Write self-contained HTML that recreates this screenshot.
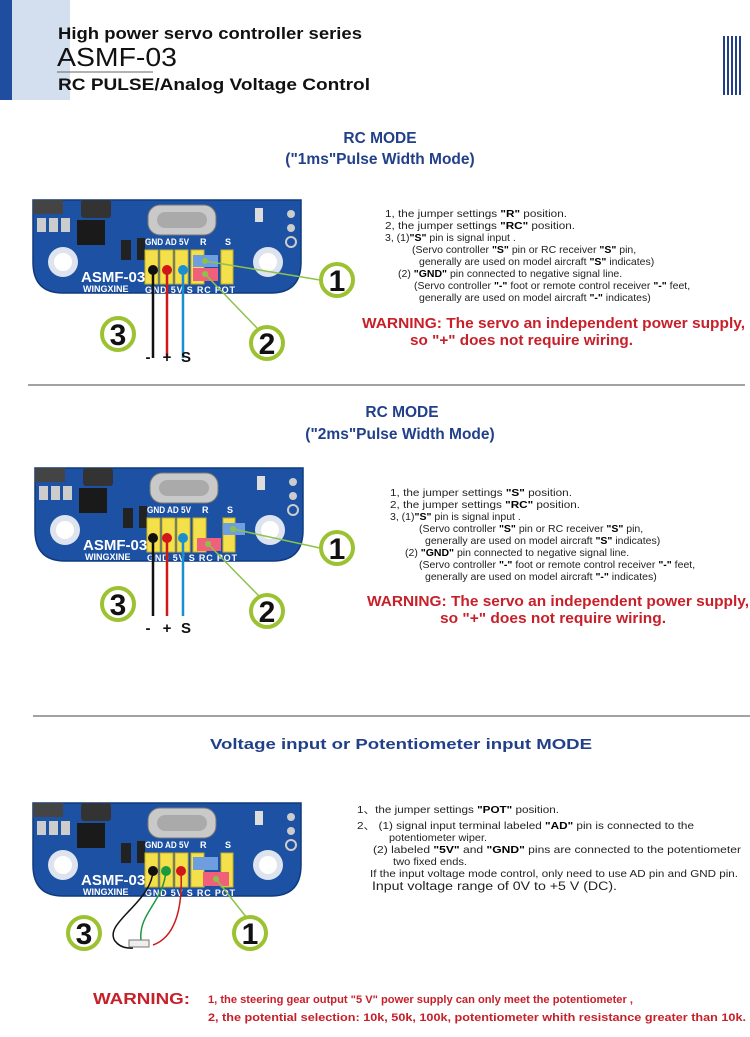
<!DOCTYPE html>
<html><head><meta charset="utf-8"><style>
html,body{margin:0;padding:0;background:#fff;}
svg{display:block;}
text{font-family:"Liberation Sans",sans-serif;}
.t{font-size:10.5px;fill:#222;}
.b{font-weight:bold;fill:#000;}
.h{font-weight:bold;fill:#22408a;font-size:15.5px;}
.w{font-weight:bold;fill:#c8202a;}
.bl{font-size:9px;fill:#fff;font-weight:bold;}
.num{font-size:30px;font-weight:bold;fill:#111;}
.pm{font-size:15px;font-weight:bold;fill:#111;}
</style></head><body>
<svg width="750" height="1037" viewBox="0 0 750 1037" xmlns="http://www.w3.org/2000/svg">
<defs>
<g id="brdbase">
  <path d="M0,0 H268 V62 Q268,93 238,93 H30 Q0,93 0,62 Z" fill="#1d51a3" stroke="#0f3a7d" stroke-width="1.5"/>
  <rect x="0" y="0" width="30" height="14" fill="#444"/>
  <rect x="48" y="0" width="30" height="18" rx="3" fill="#333"/>
  <rect x="4" y="18" width="9" height="14" fill="#ccc"/><rect x="16" y="18" width="9" height="14" fill="#ccc"/><rect x="28" y="18" width="9" height="14" fill="#ccc"/>
  <rect x="44" y="20" width="28" height="25" fill="#1a1a1a"/>
  <rect x="115" y="5" width="68" height="30" rx="12" fill="#c9c9c9" stroke="#777"/>
  <rect x="124" y="12" width="50" height="16" rx="8" fill="#aaa"/>
  <rect x="88" y="40" width="10" height="20" fill="#222"/>
  <rect x="104" y="38" width="8" height="22" fill="#222"/>
  <rect x="222" y="8" width="8" height="14" fill="#ddd"/>
  <circle cx="258" cy="14" r="4" fill="#ccc"/><circle cx="258" cy="28" r="4" fill="#ccc"/><circle cx="258" cy="42" r="5" fill="none" stroke="#ccc" stroke-width="2"/>
  <circle cx="30" cy="62" r="15" fill="#dde4ef"/><circle cx="30" cy="62" r="9" fill="#fff"/>
  <circle cx="235" cy="62" r="15" fill="#dde4ef"/><circle cx="235" cy="62" r="9" fill="#fff"/>
  <text x="48" y="82" style="font-size:15px;font-weight:bold;fill:#fff">ASMF-03</text>
  <text x="50" y="92" style="font-size:9px;font-weight:bold;fill:#fff">WINGXINE</text>
  <text x="112" y="45" class="bl" textLength="44" lengthAdjust="spacingAndGlyphs">GND AD 5V</text>
  <text x="167" y="45" class="bl">R</text>
  <text x="192" y="45" class="bl">S</text>
  <text x="112" y="93" class="bl" textLength="90" lengthAdjust="spacing">GND 5V  S  RC  POT</text>
  <rect x="112" y="50" width="13" height="34" fill="#f4e04a" stroke="#c9b020"/>
  <rect x="127" y="50" width="13" height="34" fill="#f4e04a" stroke="#c9b020"/>
  <rect x="142" y="50" width="13" height="34" fill="#f4e04a" stroke="#c9b020"/>
  <rect x="158" y="50" width="13" height="34" fill="#f4e04a" stroke="#c9b020"/>
  <rect x="188" y="50" width="12" height="34" fill="#f4e04a" stroke="#c9b020"/>
</g>
</defs>

<!-- header -->
<rect x="0" y="0" width="12" height="100" fill="#1f4ea0"/>
<rect x="12" y="0" width="58" height="100" fill="#d3deee"/>
<text x="58" y="39" style="font-size:17px;font-weight:bold;fill:#111" textLength="304" lengthAdjust="spacingAndGlyphs">High power servo controller series</text>
<text x="57" y="66" style="font-size:26px;fill:#111" textLength="120" lengthAdjust="spacingAndGlyphs">ASMF-03</text>
<line x1="57" y1="72" x2="153" y2="72" stroke="#666" stroke-width="1"/>
<text x="58" y="90" style="font-size:17px;font-weight:bold;fill:#111" textLength="312" lengthAdjust="spacingAndGlyphs">RC PULSE/Analog Voltage Control</text>
<g stroke="#22408a" stroke-width="2">
<line x1="724" y1="36" x2="724" y2="95"/><line x1="728" y1="36" x2="728" y2="95"/><line x1="732" y1="36" x2="732" y2="95"/><line x1="736" y1="36" x2="736" y2="95"/><line x1="740" y1="36" x2="740" y2="95"/>
</g>

<!-- Section 1 -->
<text x="380" y="143" text-anchor="middle" class="h">RC MODE</text>
<text x="380" y="164" text-anchor="middle" class="h">("1ms"Pulse Width Mode)</text>
<g transform="translate(33,200)">
  <use href="#brdbase"/>
  <rect x="160" y="55" width="25" height="12" fill="#6e9ee0"/>
  <rect x="160" y="68" width="25" height="13" fill="#f0607a"/>
  <line x1="120" y1="70" x2="120" y2="158" stroke="#111" stroke-width="2.5"/>
  <line x1="134" y1="70" x2="134" y2="158" stroke="#d01818" stroke-width="2.5"/>
  <line x1="150" y1="70" x2="150" y2="158" stroke="#1a8ed0" stroke-width="2.5"/>
  <circle cx="120" cy="70" r="5" fill="#111"/><circle cx="134" cy="70" r="5" fill="#d01818"/><circle cx="150" cy="70" r="5" fill="#1a8ed0"/>
  <circle cx="172" cy="61" r="3" fill="#8bc34a"/><circle cx="172" cy="74" r="3" fill="#8bc34a"/>
  <line x1="172" y1="61" x2="287" y2="80" stroke="#8bc34a" stroke-width="1.5"/>
  <line x1="172" y1="74" x2="224" y2="128" stroke="#8bc34a" stroke-width="1.5"/>
</g>
<text x="148" y="362" class="pm" text-anchor="middle">-</text><text x="167" y="362" class="pm" text-anchor="middle">+</text><text x="186" y="362" class="pm" text-anchor="middle">S</text>
<circle cx="118" cy="334" r="16" fill="#fff" stroke="#9cc232" stroke-width="4"/><text x="118" y="345" text-anchor="middle" class="num">3</text>
<circle cx="337" cy="280" r="16" fill="#fff" stroke="#9cc232" stroke-width="4"/><text x="337" y="291" text-anchor="middle" class="num">1</text>
<circle cx="267" cy="343" r="16" fill="#fff" stroke="#9cc232" stroke-width="4"/><text x="267" y="354" text-anchor="middle" class="num">2</text>
<text x="385" y="217" class="t" textLength="182" lengthAdjust="spacingAndGlyphs">1, the jumper settings <tspan class="b">"R"</tspan> position.</text>
<text x="385" y="229" class="t" textLength="190" lengthAdjust="spacingAndGlyphs">2, the jumper settings <tspan class="b">"RC"</tspan> position.</text>
<text x="385" y="241" class="t">3,  (1)<tspan class="b">"S"</tspan> pin is signal input .</text>
<text x="412" y="253" class="t">(Servo controller <tspan class="b">"S"</tspan> pin or RC receiver <tspan class="b">"S"</tspan> pin,</text>
<text x="419" y="265" class="t">generally are used on model aircraft <tspan class="b">"S"</tspan> indicates)</text>
<text x="398" y="277" class="t">(2) <tspan class="b">"GND"</tspan> pin connected to negative signal line.</text>
<text x="414" y="289" class="t">(Servo controller <tspan class="b">"-"</tspan> foot or remote control receiver <tspan class="b">"-"</tspan> feet,</text>
<text x="419" y="301" class="t">generally are used on model aircraft <tspan class="b">"-"</tspan> indicates)</text>
<text x="362" y="328" class="w" style="font-size:15px" textLength="383" lengthAdjust="spacingAndGlyphs">WARNING: The servo an independent power supply,</text>
<text x="410" y="345" class="w" style="font-size:15px" textLength="223" lengthAdjust="spacingAndGlyphs">so "+" does not require wiring.</text>

<line x1="28" y1="385" x2="745" y2="385" stroke="#444" stroke-width="1"/>

<!-- Section 2 -->
<text x="402" y="417" text-anchor="middle" class="h">RC MODE</text>
<text x="400" y="439" text-anchor="middle" class="h">("2ms"Pulse Width Mode)</text>
<g transform="translate(35,468)">
  <use href="#brdbase"/>
  <rect x="188" y="55" width="22" height="12" fill="#6e9ee0"/>
  <rect x="162" y="70" width="24" height="13" fill="#f0607a"/>
  <line x1="118" y1="70" x2="118" y2="148" stroke="#111" stroke-width="2.5"/>
  <line x1="132" y1="70" x2="132" y2="148" stroke="#d01818" stroke-width="2.5"/>
  <line x1="148" y1="70" x2="148" y2="148" stroke="#1a8ed0" stroke-width="2.5"/>
  <circle cx="118" cy="70" r="5" fill="#111"/><circle cx="132" cy="70" r="5" fill="#d01818"/><circle cx="148" cy="70" r="5" fill="#1a8ed0"/>
  <circle cx="198" cy="61" r="3" fill="#8bc34a"/><circle cx="173" cy="76" r="3" fill="#8bc34a"/>
  <line x1="198" y1="61" x2="285" y2="80" stroke="#8bc34a" stroke-width="1.5"/>
  <line x1="173" y1="76" x2="224" y2="128" stroke="#8bc34a" stroke-width="1.5"/>
</g>
<text x="148" y="633" class="pm" text-anchor="middle">-</text><text x="167" y="633" class="pm" text-anchor="middle">+</text><text x="186" y="633" class="pm" text-anchor="middle">S</text>
<circle cx="118" cy="604" r="16" fill="#fff" stroke="#9cc232" stroke-width="4"/><text x="118" y="615" text-anchor="middle" class="num">3</text>
<circle cx="337" cy="548" r="16" fill="#fff" stroke="#9cc232" stroke-width="4"/><text x="337" y="559" text-anchor="middle" class="num">1</text>
<circle cx="267" cy="611" r="16" fill="#fff" stroke="#9cc232" stroke-width="4"/><text x="267" y="622" text-anchor="middle" class="num">2</text>
<text x="390" y="496" class="t" textLength="182" lengthAdjust="spacingAndGlyphs">1, the jumper settings <tspan class="b">"S"</tspan> position.</text>
<text x="390" y="508" class="t" textLength="190" lengthAdjust="spacingAndGlyphs">2, the jumper settings <tspan class="b">"RC"</tspan> position.</text>
<text x="390" y="520" class="t">3,  (1)<tspan class="b">"S"</tspan> pin is signal input .</text>
<text x="419" y="532" class="t">(Servo controller <tspan class="b">"S"</tspan> pin or RC receiver <tspan class="b">"S"</tspan> pin,</text>
<text x="425" y="544" class="t">generally are used on model aircraft <tspan class="b">"S"</tspan> indicates)</text>
<text x="405" y="556" class="t">(2) <tspan class="b">"GND"</tspan> pin connected to negative signal line.</text>
<text x="419" y="568" class="t">(Servo controller <tspan class="b">"-"</tspan> foot or remote control receiver <tspan class="b">"-"</tspan> feet,</text>
<text x="425" y="580" class="t">generally are used on model aircraft <tspan class="b">"-"</tspan> indicates)</text>
<text x="367" y="606" class="w" style="font-size:15px" textLength="382" lengthAdjust="spacingAndGlyphs">WARNING: The servo an independent power supply,</text>
<text x="440" y="623" class="w" style="font-size:15px" textLength="226" lengthAdjust="spacingAndGlyphs">so "+" does not require wiring.</text>

<line x1="33" y1="716" x2="750" y2="716" stroke="#444" stroke-width="1"/>

<!-- Section 3 -->
<text x="401" y="749" text-anchor="middle" class="h" style="font-size:14.5px" textLength="382" lengthAdjust="spacingAndGlyphs">Voltage input or Potentiometer input MODE</text>
<g transform="translate(33,803)">
  <use href="#brdbase"/>
  <rect x="160" y="54" width="25" height="13" fill="#6e9ee0"/>
  <rect x="170" y="69" width="26" height="14" fill="#f0607a"/>
  <circle cx="120" cy="68" r="5" fill="#111"/><circle cx="133" cy="68" r="5" fill="#1a9a40"/><circle cx="148" cy="68" r="5" fill="#d01818"/>
  <path d="M120,68 C118,100 70,120 82,138 Q88,146 100,145" fill="none" stroke="#111" stroke-width="1.5"/>
  <path d="M133,68 C130,100 105,110 108,138" fill="none" stroke="#1a9a40" stroke-width="1.5"/>
  <path d="M148,68 C150,110 140,135 120,142" fill="none" stroke="#d01818" stroke-width="1.5"/>
  <rect x="96" y="137" width="20" height="7" fill="#eee" stroke="#777"/>
  <circle cx="183" cy="76" r="3" fill="#8bc34a"/>
  <line x1="183" y1="76" x2="214" y2="115" stroke="#8bc34a" stroke-width="1.5"/>
</g>
<circle cx="84" cy="933" r="16" fill="#fff" stroke="#9cc232" stroke-width="4"/><text x="84" y="944" text-anchor="middle" class="num">3</text>
<circle cx="250" cy="933" r="16" fill="#fff" stroke="#9cc232" stroke-width="4"/><text x="250" y="944" text-anchor="middle" class="num">1</text>
<text x="357" y="813" class="t" textLength="202" lengthAdjust="spacingAndGlyphs">1、the jumper settings <tspan class="b">"POT"</tspan> position.</text>
<text x="357" y="829" class="t" textLength="337" lengthAdjust="spacingAndGlyphs">2、   (1) signal input terminal labeled <tspan class="b">"AD"</tspan> pin is connected to the</text>
<text x="389" y="841" class="t" textLength="98" lengthAdjust="spacingAndGlyphs">potentiometer wiper.</text>
<text x="373" y="853" class="t" textLength="368" lengthAdjust="spacingAndGlyphs">(2) labeled <tspan class="b">"5V"</tspan> and <tspan class="b">"GND"</tspan> pins are connected to the potentiometer</text>
<text x="393" y="865" class="t" textLength="74" lengthAdjust="spacingAndGlyphs">two fixed ends.</text>
<text x="370" y="877" class="t" textLength="368" lengthAdjust="spacingAndGlyphs">If the input voltage mode control, only need to use AD pin and GND pin.</text>
<text x="372" y="890" class="t" style="font-size:11.5px" textLength="245" lengthAdjust="spacingAndGlyphs">Input voltage range of 0V to +5 V (DC).</text>

<text x="93" y="1004" class="w" style="font-size:16px" textLength="97" lengthAdjust="spacingAndGlyphs">WARNING:</text>
<text x="208" y="1003" class="w" style="font-size:11px" textLength="425" lengthAdjust="spacingAndGlyphs">1, the steering gear output "5 V" power supply can only meet the potentiometer ,</text>
<text x="208" y="1021" class="w" style="font-size:11px" textLength="538" lengthAdjust="spacingAndGlyphs">2, the potential selection: 10k, 50k, 100k, potentiometer whith resistance greater than 10k.</text>
</svg>
</body></html>
